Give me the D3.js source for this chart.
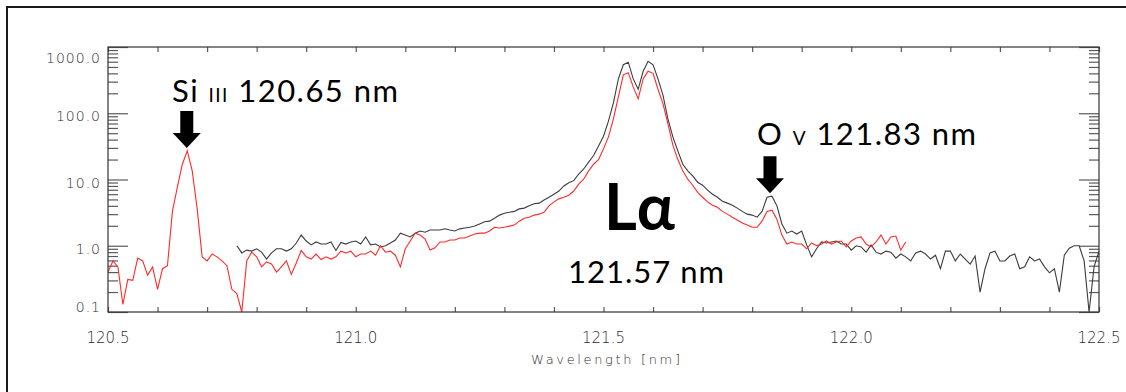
<!DOCTYPE html>
<html>
<head>
<meta charset="utf-8">
<script src="https://cdn.jsdelivr.net/npm/d3@7"></script>
<style>
  body { margin: 0; background: #fff; }
  svg { display: block; }
</style>
</head>
<body>
<div id="chart"></div>
<script>
const gridStep = 0.01
const redStart = 120.50
const redValues = [
  0.40, 0.59, 0.48, 0.13, 0.31, 0.30, 0.65, 0.59, 0.36, 0.48,
  0.22, 0.45, 0.50, 3.3, 7.7, 17, 27, 13.5, 3.6, 0.68,
  0.59, 0.75, 0.68, 0.59, 0.50, 0.22, 0.19, 0.10, 0.59, 0.80,
  0.68, 0.48, 0.57, 0.53, 0.40, 0.48, 0.59, 0.37, 0.55, 0.85,
  0.68, 0.63, 0.75, 0.62, 0.68, 0.63, 0.68, 0.83, 0.78, 0.83,
  0.68, 0.75, 0.75, 0.83, 0.72, 1.0, 0.80, 0.83, 0.72, 0.48,
  0.90, 1.18, 1.55, 1.45, 1.26, 0.86, 0.93, 1.14, 1.14, 1.22,
  1.22, 1.31, 1.31, 1.40, 1.50, 1.55, 1.55, 1.67, 1.90, 1.85,
  1.90, 1.98, 2.05, 2.35, 2.6, 2.7, 2.9, 3.0, 3.2, 4.0,
  4.6, 5.1, 5.4, 5.8, 6.7, 8.5, 10.1, 13.5, 17, 20,
  29, 44, 82, 177, 380, 410, 250, 165, 330, 430,
  400, 230, 140, 69, 33, 20, 13.5, 10.1, 8.2, 6.4,
  5.4, 4.6, 4.1, 3.8, 3.3, 3.0, 2.7, 2.45, 2.2, 2.05,
  1.90, 1.90, 2.35, 3.3, 3.45, 2.5, 1.45, 1.06, 1.14, 1.06,
  1.06, 0.90, 1.10, 1.0, 1.06, 1.18, 1.06, 1.14, 1.18, 0.96,
  1.18, 1.31, 1.36, 1.06, 0.96, 1.14, 1.45, 1.06, 1.36, 1.40,
  0.86, 1.14
]
const blackStart = 120.76
const blackValues = [
  1.0, 0.78, 0.86, 0.83, 0.90, 0.80, 0.63, 0.78, 0.90, 0.90,
  0.83, 0.90, 1.10, 1.45, 1.18, 1.03, 1.14, 1.06, 1.06, 1.14,
  0.85, 1.12, 1.06, 1.14, 1.18, 1.06, 1.36, 1.03, 1.06, 0.96,
  1.0, 1.10, 1.22, 1.55, 1.45, 1.36, 1.55, 1.67, 1.60, 1.73,
  1.73, 1.73, 1.80, 1.73, 1.67, 1.80, 1.85, 1.90, 1.98, 2.13,
  2.3, 2.35, 2.6, 2.9, 3.1, 3.2, 3.3, 3.6, 3.7, 4.0,
  4.3, 4.4, 4.9, 5.4, 6.0, 6.7, 8.0, 8.9, 9.6, 12.1,
  14.4, 18.3, 23, 32, 45, 76, 143, 330, 540, 590,
  330, 230, 430, 610, 540, 330, 188, 82, 44, 27,
  17, 13.5, 11.3, 9.1, 8.2, 6.9, 6.0, 5.4, 4.7, 4.4,
  4.1, 3.7, 3.3, 3.0, 2.9, 2.7, 3.3, 5.4, 5.6, 4.0,
  2.13, 1.55, 1.67, 1.50, 1.67, 1.03, 0.68, 0.90, 1.14, 1.10,
  1.14, 1.18, 1.06, 1.06, 0.86, 1.0, 0.96, 0.80, 1.03, 0.80,
  0.75, 0.83, 0.80, 0.65, 0.75, 0.68, 0.59, 0.78, 0.83, 0.75,
  0.63, 0.72, 0.45, 0.83, 0.83, 0.59, 0.75, 0.63, 0.53, 0.70,
  0.20, 0.45, 0.78, 0.83, 0.59, 0.59, 0.70, 0.75, 0.45, 0.48,
  0.68, 0.59, 0.63, 0.48, 0.39, 0.45, 0.20, 0.72, 0.92, 1.0,
  1.0, 0.59, 0.10, 0.48, 0.83
]

const xDomain = [120.5, 122.5]
const xLabelTicks = [120.5, 121.0, 121.5, 122.0, 122.5]
const yDomain = [0.1, 1000]
const yLabelTicks = [0.1, 1, 10, 100, 1000]

// marked emission lines
const lineMarks = [
  { name: 'Si', ion: 'III', wl: 120.659, peak: 27, text: '120.65 nm' },
  { name: 'O', ion: 'V', wl: 121.836, peak: 5.6, text: '121.83 nm' }
]

const W = 1126, H = 392
const M = { left: 108, right: 1099, top: 47, bottom: 312 }

const svg = d3.select('#chart').append('svg')
  .attr('width', W).attr('height', H)

// outer frame (runs off the right/bottom edge of the picture)
svg.append('rect')
  .attr('x', 7).attr('y', 7).attr('width', W + 20).attr('height', H + 20)
  .attr('fill', 'none').attr('stroke', '#1a1a1a').attr('stroke-width', 2)

const x = d3.scaleLinear().domain(xDomain).range([M.left, M.right])
const y = d3.scaleLog().domain(yDomain).range([M.bottom, M.top])

svg.append('defs').append('clipPath').attr('id', 'plot-clip')
  .append('rect')
  .attr('x', M.left).attr('y', M.top)
  .attr('width', M.right - M.left).attr('height', M.bottom - M.top)

// ── ticks ────────────────────────────────────────────────────────────────
const xMinor = d3.range(0, 21).map(i => +(120.5 + i * 0.1).toFixed(1))
const yMajor = yLabelTicks
const yMinor = []
yMajor.slice(0, -1).forEach(d => { for (let k = 2; k <= 9; k++) yMinor.push(d * k) })

const tickColor = '#5a5a5a'
const styleAxis = g => {
  g.select('.domain').remove()
  g.selectAll('.tick line').attr('stroke', tickColor).attr('stroke-width', 1.2)
}

svg.append('g').attr('transform', `translate(0,${M.bottom})`)
  .call(d3.axisBottom(x).tickValues(xMinor).tickSize(-5).tickFormat(''))
  .call(styleAxis)
svg.append('g').attr('transform', `translate(0,${M.top})`)
  .call(d3.axisTop(x).tickValues(xMinor).tickSize(-5).tickFormat(''))
  .call(styleAxis)

svg.append('g').attr('transform', `translate(${M.left},0)`)
  .call(d3.axisLeft(y).tickValues(yMinor).tickSize(-10).tickFormat(''))
  .call(styleAxis)
svg.append('g').attr('transform', `translate(${M.left},0)`)
  .call(d3.axisLeft(y).tickValues(yMajor).tickSize(-20).tickFormat(''))
  .call(styleAxis)
svg.append('g').attr('transform', `translate(${M.right},0)`)
  .call(d3.axisRight(y).tickValues(yMinor).tickSize(-10).tickFormat(''))
  .call(styleAxis)
svg.append('g').attr('transform', `translate(${M.right},0)`)
  .call(d3.axisRight(y).tickValues(yMajor).tickSize(-20).tickFormat(''))
  .call(styleAxis)

// tick labels (IDL style: thin, widely spaced)
const labelFont = "'DejaVu Sans', sans-serif"
const labelColor = '#2e2e2e'
svg.append('g').selectAll('text')
  .data(xLabelTicks).join('text')
  .attr('x', d => x(d)).attr('y', M.bottom + 31)
  .attr('text-anchor', 'middle')
  .attr('fill', labelColor)
  .style('font-family', labelFont).style('font-size', '15px').style('font-weight', 200)
  .text(d => d.toFixed(1))

// log-axis labels: the end labels are nudged inside the frame
const yLabelShift = d => d === yDomain[0] ? 0 : d === yDomain[1] ? 16 : 8
svg.append('g').selectAll('text')
  .data(yLabelTicks).join('text')
  .attr('x', M.left - 7).attr('y', d => y(d) + yLabelShift(d))
  .attr('text-anchor', 'end')
  .attr('fill', labelColor)
  .style('font-family', labelFont).style('font-size', '14px').style('font-weight', 200)
  .style('letter-spacing', '1px')
  .text(d => d.toFixed(1))

svg.append('text')
  .attr('x', 531).attr('y', 364)
  .attr('textLength', 149).attr('lengthAdjust', 'spacing')
  .attr('fill', labelColor)
  .style('font-family', labelFont).style('font-size', '13px').style('font-weight', 200)
  .text('Wavelength [nm]')

// ── spectra ─────────────────────────────────────────────────────────────
const toPoints = (start, vals) => vals.map((v, i) => [start + i * gridStep, v])
const line = d3.line().x(d => x(d[0])).y(d => y(Math.max(d[1], 0.05)))

const plot = svg.append('g').attr('clip-path', 'url(#plot-clip)')
plot.append('path')
  .datum(toPoints(blackStart, blackValues))
  .attr('d', line)
  .attr('fill', 'none').attr('stroke', '#3c3c3c').attr('stroke-width', 1.1)
plot.append('path')
  .datum(toPoints(redStart, redValues))
  .attr('d', line)
  .attr('fill', 'none').attr('stroke', '#ff2a2a').attr('stroke-width', 1.1)

// plot frame
svg.append('rect')
  .attr('x', M.left).attr('y', M.top)
  .attr('width', M.right - M.left).attr('height', M.bottom - M.top)
  .attr('fill', 'none').attr('stroke', '#333').attr('stroke-width', 1.2)

// ── annotations ─────────────────────────────────────────────────────────
const annFont = "Lato, 'Open Sans', sans-serif"
const arrow = (cx, tipY) => {
  const p = d3.path()
  p.moveTo(cx - 6.5, tipY - 37)
  p.lineTo(cx + 6.5, tipY - 37)
  p.lineTo(cx + 6.5, tipY - 15)
  p.lineTo(cx + 14, tipY - 15)
  p.lineTo(cx, tipY)
  p.lineTo(cx - 14, tipY - 15)
  p.lineTo(cx - 6.5, tipY - 15)
  p.closePath()
  return p.toString()
}
const labelPos = [
  { x: 172, y: 102, len: 226 },
  { x: 757, y: 145, len: 219 }
]
lineMarks.forEach((m, i) => {
  const cx = x(m.wl)
  const tipY = y(m.peak) - 3
  svg.append('path').attr('d', arrow(cx, tipY)).attr('fill', '#000')
  const t = svg.append('text')
    .attr('x', labelPos[i].x).attr('y', labelPos[i].y)
    .attr('textLength', labelPos[i].len).attr('lengthAdjust', 'spacing')
    .style('font-family', annFont).style('font-size', '31px').attr('fill', '#000')
  t.append('tspan').text(m.name + ' ')
  t.append('tspan').style('font-size', '19px').text(m.ion)
  t.append('tspan').text(' ' + m.text)
})

svg.append('text')
  .attr('x', 604).attr('y', 230)
  .attr('textLength', 71).attr('lengthAdjust', 'spacingAndGlyphs')
  .style('font-family', annFont).style('font-size', '65px').style('font-weight', 700)
  .attr('fill', '#000')
  .text('Lα')
svg.append('text')
  .attr('x', 568).attr('y', 283)
  .attr('textLength', 156).attr('lengthAdjust', 'spacing')
  .style('font-family', annFont).style('font-size', '31px')
  .attr('fill', '#000')
  .text('121.57 nm')
</script>
</body>
</html>
